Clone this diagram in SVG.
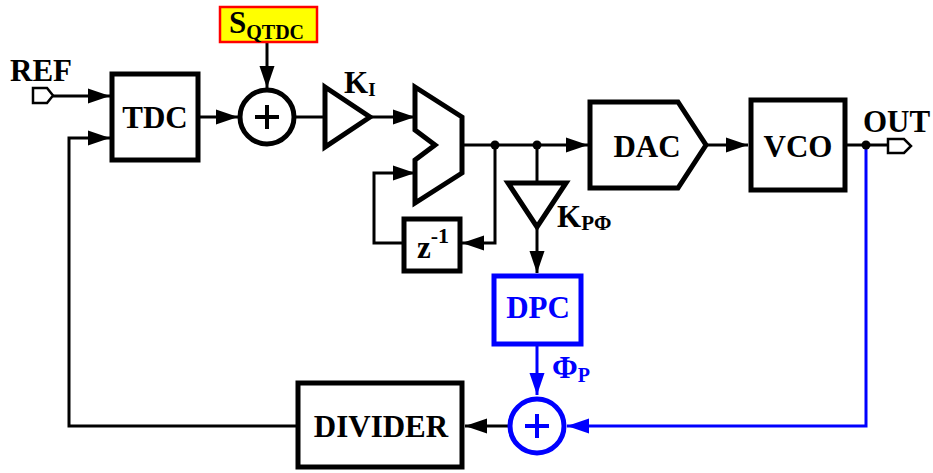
<svg xmlns="http://www.w3.org/2000/svg" width="933" height="473" viewBox="0 0 933 473">
<style>
.blk{fill:#fff;stroke:#000;stroke-width:5}
.bblk{fill:#fff;stroke:#0000ff;stroke-width:5}
.w{fill:none;stroke:#000;stroke-width:3}
.bw{fill:none;stroke:#0000ff;stroke-width:3}
.t{font-family:"Liberation Serif","Times New Roman",serif;font-weight:bold;font-size:31px;fill:#000}
.bt{font-family:"Liberation Serif","Times New Roman",serif;font-weight:bold;font-size:31px;fill:#0000ff}
.plus{stroke:#000;stroke-width:4}
.bplus{stroke:#0000ff;stroke-width:4}
</style>
<defs>
<marker id="ah" markerUnits="userSpaceOnUse" markerWidth="22" markerHeight="16" refX="22" refY="8" orient="auto"><path d="M0,0.5 L22,8 L0,15.5 z" fill="#000"/></marker>
<marker id="bah" markerUnits="userSpaceOnUse" markerWidth="22" markerHeight="16" refX="22" refY="8" orient="auto"><path d="M0,0.5 L22,8 L0,15.5 z" fill="#0000ff"/></marker>
</defs>
<g id="connectors">
<path class="w" d="M53,96 L110,96" marker-end="url(#ah)"/>
<path class="w" d="M296,426 L69,426 L69,138 L110,138" marker-end="url(#ah)"/>
<path class="w" d="M200,117 L238,117" marker-end="url(#ah)"/>
<path class="w" d="M267,43 L267,88" marker-end="url(#ah)"/>
<path class="w" d="M296,117 L325,117"/>
<path class="w" d="M370,117 L415,117" marker-end="url(#ah)"/>
<path class="w" d="M462,145 L588,145" marker-end="url(#ah)"/>
<path class="w" d="M495,145 L495,243 L462,243" marker-end="url(#ah)"/>
<path class="w" d="M402,243 L374,243 L374,173 L415,173" marker-end="url(#ah)"/>
<path class="w" d="M537,145 L537,183"/>
<path class="w" d="M537,227 L537,273" marker-end="url(#ah)"/>
<path class="w" d="M707,145 L748,145" marker-end="url(#ah)"/>
<path class="w" d="M847,145 L888,145"/>
<path class="bw" d="M537,345 L537,395" marker-end="url(#bah)"/>
<path class="bw" d="M866,145 L866,426 L567,426" marker-end="url(#bah)"/>
<path class="w" d="M508,426 L465,426" marker-end="url(#ah)"/>
<circle cx="495" cy="145" r="4.5" fill="#000"/>
<circle cx="537" cy="145" r="4.5" fill="#000"/>
<circle cx="866" cy="145" r="4.5" fill="#000"/>
</g>
<g id="ref">
<path d="M33,88 L47,88 L53,95.5 L47,103 L33,103 z" fill="#fff" stroke="#000" stroke-width="2.5"/>
<text class="t" x="10" y="81">REF</text>
</g>
<g id="tdc">
<rect class="blk" x="112" y="74" width="86" height="86"/>
<text class="t" x="155" y="128" text-anchor="middle">TDC</text>
</g>
<g id="sqtdc">
<rect x="220" y="7" width="97" height="35" fill="#ffff00" stroke="#ff0000" stroke-width="2.5"/>
<text class="t" x="229" y="33">S<tspan font-size="20" dy="6">QTDC</tspan></text>
</g>
<g id="adder1">
<circle class="blk" cx="267" cy="117" r="27"/>
<path class="plus" d="M255,117 L279,117 M267,105 L267,129"/>
</g>
<g id="ki">
<path class="blk" d="M325,87 L370,117 L325,147 z"/>
<text class="t" x="344" y="93" font-size="25">K<tspan font-size="19" dy="3">I</tspan></text>
</g>
<g id="mux">
<path class="blk" d="M415,87 L462,117 L462,173 L415,203 L415,160 L435,145 L415,130 z"/>
</g>
<g id="zinv">
<rect class="blk" x="404" y="219" width="56" height="52"/>
<text class="t" x="417" y="258">z<tspan font-size="22" dy="-15">-1</tspan></text>
</g>
<g id="kp">
<path class="blk" d="M508,183 L566,183 L537,227 z"/>
<text class="t" x="557" y="227" font-size="25">K<tspan font-size="21" dy="3">PΦ</tspan></text>
</g>
<g id="dac">
<path class="blk" d="M590,102 L678,102 L706,145 L678,188 L590,188 z"/>
<text class="t" x="647" y="157" text-anchor="middle">DAC</text>
</g>
<g id="vco">
<rect class="blk" x="751" y="100" width="94" height="90"/>
<text class="t" x="798" y="157" text-anchor="middle">VCO</text>
</g>
<g id="out">
<path d="M888,139 L904,139 L911,146 L904,153 L888,153 z" fill="#fff" stroke="#000" stroke-width="2.5"/>
<text class="t" x="863" y="132">OUT</text>
</g>
<g id="dpc">
<rect class="bblk" x="494" y="276" width="87" height="68"/>
<text class="bt" x="538" y="318" text-anchor="middle">DPC</text>
</g>
<g id="phip">
<text class="bt" x="552" y="378" font-size="26">Φ<tspan font-size="20" dy="4">P</tspan></text>
</g>
<g id="adder2">
<circle class="bblk" cx="537" cy="426" r="27"/>
<path class="bplus" d="M525,426 L549,426 M537,414 L537,438"/>
</g>
<g id="divider">
<rect class="blk" x="298" y="383" width="164" height="84"/>
<text class="t" x="381" y="437" text-anchor="middle">DIVIDER</text>
</g>
</svg>
